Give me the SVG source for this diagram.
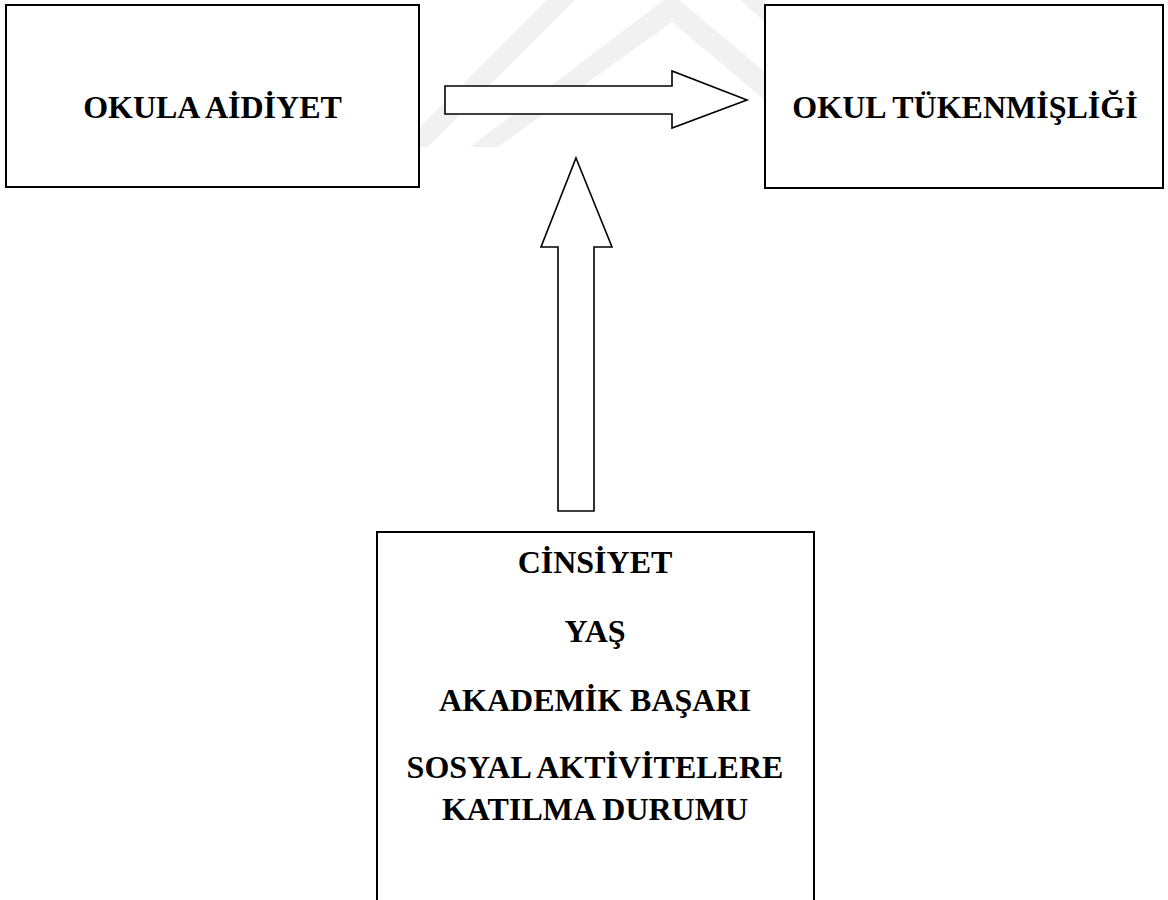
<svg xmlns="http://www.w3.org/2000/svg" width="1168" height="900" viewBox="0 0 1168 900">
  <style>
    .box { fill: #ffffff; stroke: #000000; stroke-width: 2; }
    .arrow { fill: #ffffff; stroke: #000000; stroke-width: 1.6; stroke-linejoin: miter; }
    .wm { fill: #f1f1f1; stroke: none; }
    .lbl { font-family: "Liberation Serif", "Times New Roman", serif; font-weight: bold; font-size: 32px; fill: #000000; text-anchor: middle; }
  </style>
  <rect x="0" y="0" width="1168" height="900" fill="#ffffff"/>
  <g id="watermark">
    <polygon class="wm" points="400,147 428,147 575,0 547,0"/>
    <polygon class="wm" points="470,147 498,147 672,22 765,100 765,72 672,-6"/>
    <polygon class="wm" points="700,0 740,0 765,22 765,0"/>
  </g>
  <g id="node-okula-aidiyet">
    <rect class="box" x="6" y="5" width="413" height="182"/>
    <text class="lbl" x="212.5" y="118">OKULA AİDİYET</text>
  </g>
  <g id="node-okul-tukenmisligi">
    <rect class="box" x="765" y="5" width="398" height="183"/>
    <text class="lbl" x="965" y="118">OKUL TÜKENMİŞLİĞİ</text>
  </g>
  <g id="node-degiskenler">
    <rect class="box" x="377" y="532" width="437" height="380"/>
    <text class="lbl" x="595" y="573">CİNSİYET</text>
    <text class="lbl" x="595" y="642">YAŞ</text>
    <text class="lbl" x="595" y="711">AKADEMİK BAŞARI</text>
    <text class="lbl" x="595" y="778">SOSYAL AKTİVİTELERE</text>
    <text class="lbl" x="595" y="820">KATILMA DURUMU</text>
  </g>
  <g id="connectors">
    <polygon class="arrow" points="445,86 672,86 672,71 747,100 672,128 672,114 445,114"/>
    <polygon class="arrow" points="576,158 612,247 594,247 594,511 558,511 558,247 541,247"/>
  </g>
</svg>
